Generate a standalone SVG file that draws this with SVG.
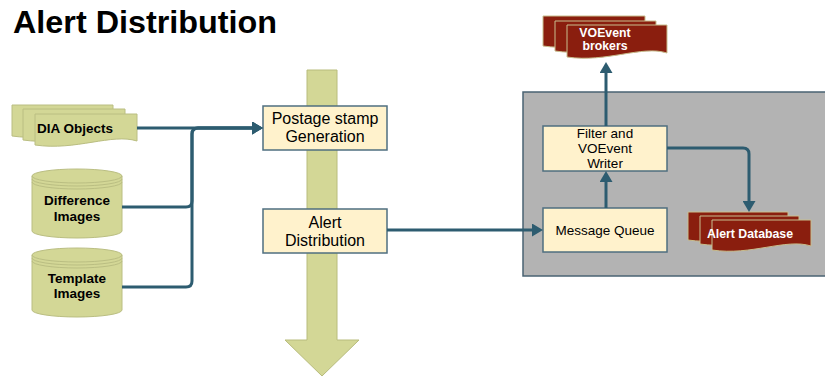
<svg xmlns="http://www.w3.org/2000/svg" width="825" height="377" viewBox="0 0 825 377">
<style>
.t{font-family:"Liberation Sans",Arial,sans-serif;text-anchor:middle}
.box{fill:#FFF2CC;stroke:#4F6F80;stroke-width:1.5}
.g{fill:#D3D796;stroke:#BABE82;stroke-width:1}
.ring{fill:none;stroke:#BABE82;stroke-width:1}
.r{fill:#8A1E0E;stroke:#C8BE8E;stroke-width:1}
.n{font-size:16px;fill:#000}
.s{font-size:13.5px;fill:#000}
.bb{font-size:13.5px;font-weight:bold;fill:#000}
.bw{font-size:12.3px;font-weight:bold;fill:#fff}
.c{fill:none;stroke:#2D5C70;stroke-width:3}
</style>
<defs>
<marker id="ah" markerWidth="12" markerHeight="13" refX="2" refY="6.5" orient="auto" markerUnits="userSpaceOnUse">
<path d="M0,0 L11,6.5 L0,13 Z" fill="#2D5C70"/>
</marker>
</defs>
<rect width="825" height="377" fill="#fff"/>
<text x="13" y="33" font-family="Liberation Sans,Arial,sans-serif" font-size="31" font-weight="bold" fill="#000" textLength="264" lengthAdjust="spacingAndGlyphs">Alert Distribution</text>

<g id="pipeline-arrow">
<polygon points="307,70 337,70 337,340 359,340 322,376 285,340 307,340" fill="#D3D796" stroke="#B8BC7C" stroke-width="1"/>
</g>

<g id="container">
<rect x="523" y="92" width="312" height="184" fill="#B3B3B3" stroke="#4A6373" stroke-width="1.5"/>
</g>

<g id="dia-objects">
<path class="g" d="M12,105 H113 V132 C88,124 52,142 12,136 Z"/>
<path class="g" d="M23,109 H125 V136 C100,128 64,146 23,140 Z"/>
<path class="g" d="M35,114 H137 V141 C112,133 76,151 35,145 Z"/>
<text class="t bb" x="75" y="133">DIA Objects</text>
</g>

<g id="difference-images">
<path class="g" d="M32,176 A45,7 0 0 1 122,176 V231 A45,7 0 0 1 32,231 Z"/>
<path class="ring" d="M32,176 A45,7 0 0 0 122,176 M32,179 A45,7 0 0 0 122,179 M32,182 A45,7 0 0 0 122,182"/>
<text class="t bb" x="77" y="205">Difference</text>
<text class="t bb" x="77" y="221">Images</text>
</g>

<g id="template-images">
<path class="g" d="M32,255 A45,7 0 0 1 122,255 V310 A45,7 0 0 1 32,310 Z"/>
<path class="ring" d="M32,255 A45,7 0 0 0 122,255 M32,258 A45,7 0 0 0 122,258 M32,261 A45,7 0 0 0 122,261"/>
<text class="t bb" x="77" y="283">Template</text>
<text class="t bb" x="77" y="298">Images</text>
</g>

<g id="postage-stamp">
<rect class="box" x="263" y="106" width="124" height="44"/>
<text class="t n" x="325" y="124">Postage stamp</text>
<text class="t n" x="325" y="142">Generation</text>
</g>

<g id="alert-distribution">
<rect class="box" x="263" y="209" width="124" height="44"/>
<text class="t n" x="325" y="228">Alert</text>
<text class="t n" x="325" y="246">Distribution</text>
</g>

<g id="filter-writer">
<rect class="box" x="543" y="126" width="124" height="45"/>
<text class="t s" x="605" y="138">Filter and</text>
<text class="t s" x="605" y="153">VOEvent</text>
<text class="t s" x="605" y="168">Writer</text>
</g>

<g id="message-queue">
<rect class="box" x="543" y="208" width="124" height="44"/>
<text class="t s" x="605" y="235">Message Queue</text>
</g>

<g id="voevent-brokers">
<path class="r" d="M543,16 H645 V42 C620,34 584,52 543,46 Z"/>
<path class="r" d="M555,21 H656 V47 C631,39 595,57 555,51 Z"/>
<path class="r" d="M567,25 H667 V53 C642,45 606,63 567,57 Z"/>
<text class="t bw" x="605" y="37">VOEvent</text>
<text class="t bw" x="605" y="50">brokers</text>
</g>

<g id="alert-database">
<path class="r" d="M688,212 H788 V236 C763,228 728,246 688,240 Z"/>
<path class="r" d="M700,216 H799 V240 C774,232 739,250 700,244 Z"/>
<path class="r" d="M712,220 H811 V246 C786,238 751,256 712,250 Z"/>
<text class="t bw" x="750" y="238">Alert Database</text>
</g>

<g id="connectors">
<path class="c" d="M137,128 H254" marker-end="url(#ah)"/>
<path class="c" d="M122,207 H186 Q192,207 192,201 V134 Q192,128 198,128 H254" marker-end="url(#ah)"/>
<path class="c" d="M122,287 H186 Q192,287 192,281 V134 Q192,128 198,128 H254" marker-end="url(#ah)"/>
<path class="c" d="M387,230 H534" marker-end="url(#ah)"/>
<path class="c" d="M606,208 V180" marker-end="url(#ah)"/>
<path class="c" d="M606,126 V71" marker-end="url(#ah)"/>
<path class="c" d="M667,148 H743 Q749,148 749,154 V203" marker-end="url(#ah)"/>
</g>
</svg>
